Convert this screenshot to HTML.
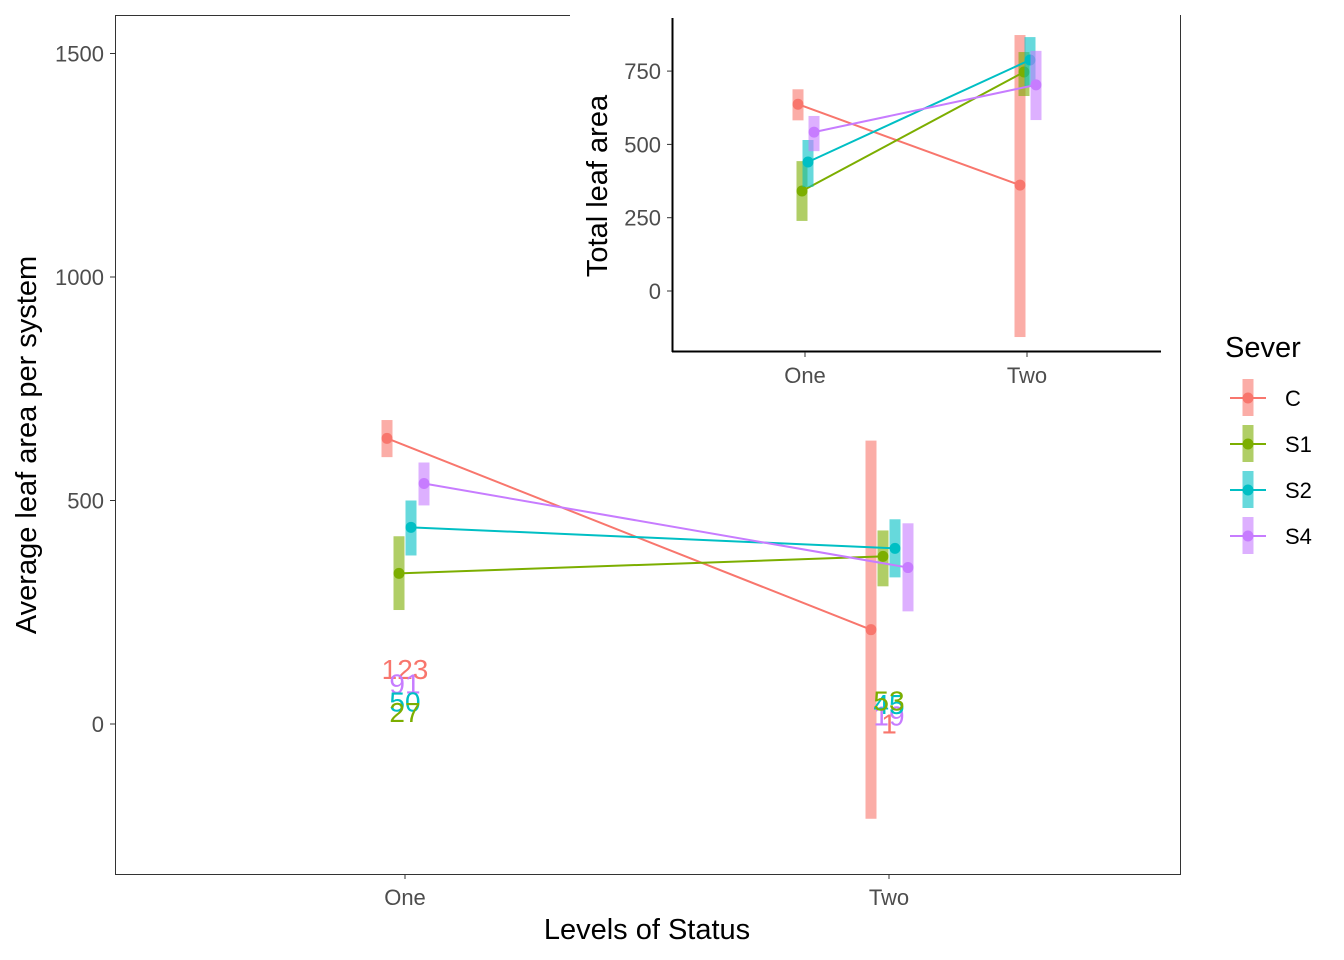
<!DOCTYPE html>
<html><head><meta charset="utf-8"><style>
html,body{margin:0;padding:0;background:#fff;}
svg{display:block;font-family:"Liberation Sans",Arial,sans-serif;}
</style></head><body>
<svg id="chart" width="1344" height="960" viewBox="0 0 1344 960"></svg>
<script>
const groups = ["C","S1","S2","S4"];
const colors = ["#F8766D","#7CAE00","#00BFC4","#C77CFF"];
const statusLevels = ["One","Two"];
// main plot: average leaf area per system
const mainMean = [[639,211],[337,375],[440,393],[538,350]];
const mainLow  = [[597,-212],[255,308],[377,328],[489,252]];
const mainHigh = [[680,634],[420,433],[500,458],[585,449]];
const countLabels = [["123","1"],["27","53"],["50","45"],["91","19"]];
const countValues = [[123,1],[27,53],[50,45],[91,19]];
const mainTicks = [0,500,1000,1500];
// inset: total leaf area
const insetMean = [[637,361],[341,747],[440,788],[542,703]];
const insetLow  = [[582,-157],[239,665],[355,699],[477,583]];
const insetHigh = [[688,873],[443,815],[515,866],[597,819]];
const insetTicks = [0,250,500,750];

const NS="http://www.w3.org/2000/svg";
const svg=document.getElementById('chart');
function el(tag,attrs,parent){const e=document.createElementNS(NS,tag);for(const k in attrs)e.setAttribute(k,attrs[k]);(parent||svg).appendChild(e);return e;}

const my=v=>724-(v)*223.5/500;
const mx=i=>[405,889][i];
const dodge=[-18,-6,6,19];
const mainG=el('g',{});


const border=el('rect',{x:115.5,y:15.5,width:1065,height:859,fill:'none',stroke:'#333','stroke-width':1},mainG);


mainTicks.forEach(t=>{
  const ln=el('line',{x1:110,x2:115,y1:my(t),y2:my(t),stroke:'#333','stroke-width':1},mainG);
  
  
  const tx=el('text',{x:104,y:my(t)+8,'text-anchor':'end','font-size':22,fill:'#4d4d4d'},mainG);
  tx.textContent=t;
  
  
});
statusLevels.forEach((s,i)=>{
  const ln=el('line',{x1:mx(i),x2:mx(i),y1:874,y2:879,stroke:'#333'},mainG);
  
  
  const tx=el('text',{x:mx(i),y:905,'text-anchor':'middle','font-size':22,fill:'#4d4d4d'},mainG);
  tx.textContent=s;
  
  
});
groups.forEach((g,k)=>{
  for(let i=0;i<2;i++){
    const r=el('rect',{x:mx(i)+dodge[k]-5.5,width:11,y:my(mainHigh[k][i]),height:my(mainLow[k][i])-my(mainHigh[k][i]),fill:colors[k],opacity:0.6},mainG);
    
    
  }
  const l=el('line',{x1:mx(0)+dodge[k],y1:my(mainMean[k][0]),x2:mx(1)+dodge[k],y2:my(mainMean[k][1]),stroke:colors[k],'stroke-width':2},mainG);
  
  
  for(let i=0;i<2;i++){
    const c=el('circle',{cx:mx(i)+dodge[k],cy:my(mainMean[k][i]),r:5.5,fill:colors[k]},mainG);
    
    
  }
});
[0,3,2,1].forEach(k=>{
  for(let i=0;i<2;i++){
    const t=el('text',{x:mx(i),y:my(countValues[k][i])+10,'text-anchor':'middle','font-size':28,fill:colors[k]},mainG);
    t.textContent=countLabels[k][i];
    
    
  }
});
const xt=el('text',{x:647,y:939,'text-anchor':'middle','font-size':29,fill:'#000'});
xt.textContent='Levels of Status';


const yt=el('text',{x:0,y:0,'text-anchor':'middle','font-size':29,fill:'#000',transform:'translate(36,445) rotate(-90)'});
yt.textContent='Average leaf area per system';



// inset
const ig=el('g',{});


const bg=el('rect',{x:570,y:14,width:610,height:378,fill:'#fff'},ig);


const border2=el('line',{x1:1180.5,y1:15,x2:1180.5,y2:392,stroke:'#333'},ig);


const iy=v=>291-v*73.3/250;
const ix=i=>[805,1027][i];
const idodge=[-7,-3,3,9];
const ax1=el('line',{x1:672.5,y1:18,x2:672.5,y2:352,stroke:'#000','stroke-width':2},ig);


const ax2=el('line',{x1:672,y1:351.5,x2:1161,y2:351.5,stroke:'#000','stroke-width':2},ig);


insetTicks.forEach(t=>{
  const ln=el('line',{x1:667,x2:672,y1:iy(t),y2:iy(t),stroke:'#333'},ig);
  
  
  const tx=el('text',{x:661,y:iy(t)+8,'text-anchor':'end','font-size':22,fill:'#4d4d4d'},ig);
  tx.textContent=t;
  
  
});
statusLevels.forEach((s,i)=>{
  const ln=el('line',{x1:ix(i),x2:ix(i),y1:352,y2:357,stroke:'#333'},ig);
  
  
  const tx=el('text',{x:ix(i),y:383,'text-anchor':'middle','font-size':22,fill:'#4d4d4d'},ig);
  tx.textContent=s;
  
  
});
groups.forEach((g,k)=>{
  for(let i=0;i<2;i++){
    const r=el('rect',{x:ix(i)+idodge[k]-5.5,width:11,y:iy(insetHigh[k][i]),height:iy(insetLow[k][i])-iy(insetHigh[k][i]),fill:colors[k],opacity:0.6},ig);
    
    
  }
  const l=el('line',{x1:ix(0)+idodge[k],y1:iy(insetMean[k][0]),x2:ix(1)+idodge[k],y2:iy(insetMean[k][1]),stroke:colors[k],'stroke-width':2},ig);
  
  
  for(let i=0;i<2;i++){
    const c=el('circle',{cx:ix(i)+idodge[k],cy:iy(insetMean[k][i]),r:5.5,fill:colors[k]},ig);
    
    
  }
});
const iyt=el('text',{x:0,y:0,'text-anchor':'middle','font-size':29,fill:'#000',transform:'translate(607,186) rotate(-90)'},ig);
iyt.textContent='Total leaf area';



// legend
const lg=el('g',{});


const lt=el('text',{x:1225,y:357,'font-size':29,fill:'#000'},lg);
lt.textContent='Sever';


groups.forEach((g,k)=>{
  const y=398+k*46;
  const e=el('g',{},lg);
  
  
  el('rect',{x:1242.5,y:y-19,width:11,height:37,fill:colors[k],opacity:0.6},e);
  el('line',{x1:1230,x2:1266,y1:y,y2:y,stroke:colors[k],'stroke-width':2},e);
  el('circle',{cx:1248,cy:y,r:5.5,fill:colors[k]},e);
  const t=el('text',{x:1285,y:y+8,'font-size':22,fill:'#000'},e);
  t.textContent=g;
});
</script>
</body></html>
